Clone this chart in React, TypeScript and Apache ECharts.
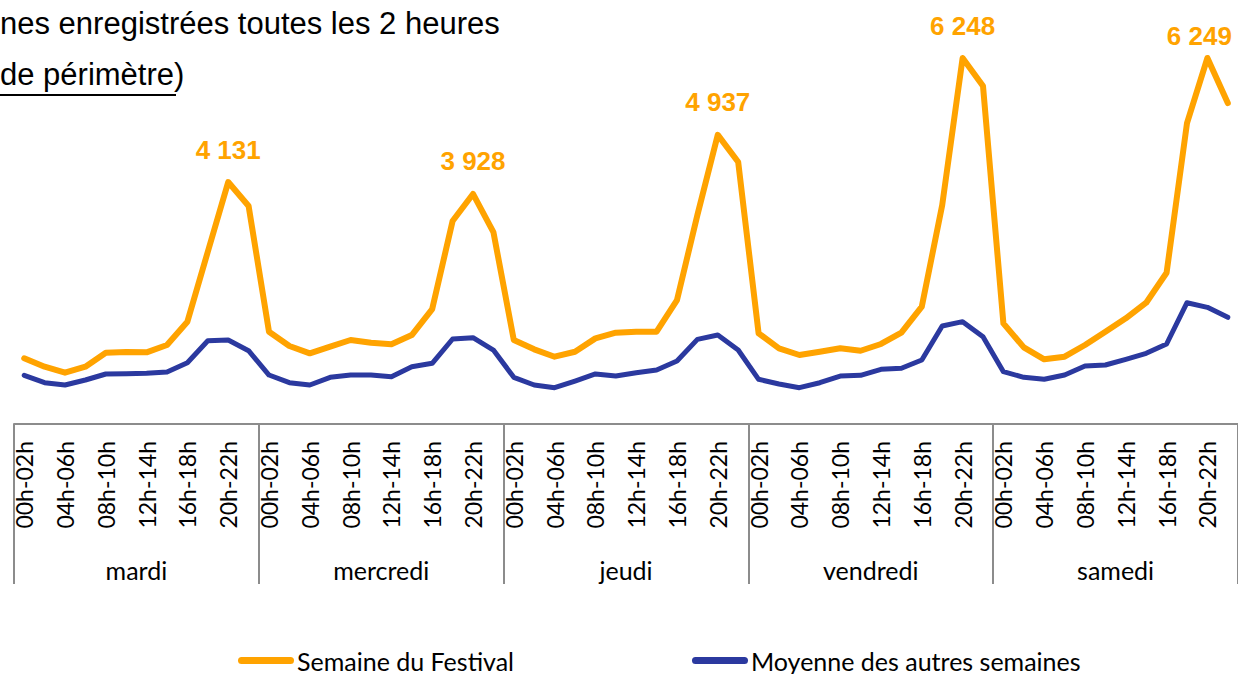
import React, { useEffect, useRef } from "react";
import * as echarts from "echarts";

const days = ["mardi", "mercredi", "jeudi", "vendredi", "samedi"];
const slots = [
  "00h-02h", "02h-04h", "04h-06h", "06h-08h", "08h-10h", "10h-12h",
  "12h-14h", "14h-16h", "16h-18h", "18h-20h", "20h-22h", "22h-24h",
];
const festival = [
  1122, 978, 876, 978, 1217, 1229, 1224, 1349, 1747, 2941, 4131, 3721,
  1576, 1331, 1206, 1320, 1434, 1388, 1360, 1519, 1963, 3465, 3928, 3277,
  1434, 1275, 1149, 1234, 1462, 1559, 1576, 1576, 2117, 3568, 4937, 4472,
  1548, 1292, 1178, 1234, 1292, 1251, 1366, 1559, 2003, 3738, 6248, 5770,
  1718, 1309, 1104, 1149, 1349, 1576, 1804, 2071, 2583, 5138, 6249, 5479,
];
const autres = [
  831, 705, 666, 751, 854, 859, 865, 888, 1047, 1422, 1434, 1251,
  836, 705, 666, 797, 836, 836, 808, 978, 1036, 1451, 1473, 1263,
  797, 666, 620, 734, 854, 819, 876, 922, 1075, 1445, 1519, 1263,
  763, 683, 620, 705, 819, 831, 934, 951, 1092, 1673, 1747, 1490,
  893, 797, 763, 836, 990, 1007, 1104, 1207, 1366, 2071, 1992, 1821,
];
const peakIndices = [10, 22, 34, 46, 58];
const seriesNames = ["Semaine du Festival", "Moyenne des autres semaines"];
const titleLine1 = "nes enregistrées toutes les 2 heures";
const titleLine2 = "de périmètre";

const ORANGE = "#FFA300";
const BLUE = "#2B399F";
const GRAY = "#8C8C8C";

const fmt = (v: number) => String(v).replace(/\B(?=(\d{3})+(?!\d))/g, " ");

export default function App() {
  const ref = useRef<HTMLDivElement>(null);
  useEffect(() => {
    if (!ref.current) return;
    const chart = echarts.init(ref.current, null, { renderer: "svg" });
    const cats: string[] = [];
    days.forEach((d) => slots.forEach((s) => cats.push(d + "|" + s)));
    const lastPeak = peakIndices[peakIndices.length - 1];
    const festData = festival.map((v, i) => {
      if (!peakIndices.includes(i)) return v;
      return {
        value: v,
        label: { show: true, position: "top", distance: i === lastPeak ? 8 : 19 },
      };
    });
    const titleFont = "31px 'Liberation Sans', Arial, sans-serif";
    chart.setOption({
      animation: false,
      backgroundColor: "#ffffff",
      grid: { left: 14, top: 14, width: 1225, height: 410, containLabel: false },
      legend: {
        data: seriesNames,
        left: 233,
        top: 643,
        itemGap: 178,
        itemWidth: 56,
        itemHeight: 7,
        icon: "path://M3.5,0 H52.5 A3.5,3.5 0 0 1 52.5,7 H3.5 A3.5,3.5 0 0 1 3.5,0 Z",
        textStyle: { fontFamily: "Lato", fontSize: 25, color: "#000", padding: [0, 0, 0, -2] },
      },
      xAxis: [
        {
          type: "category",
          data: cats,
          boundaryGap: true,
          axisLine: { show: true, lineStyle: { color: GRAY, width: 2 } },
          axisTick: { show: false },
          axisLabel: {
            interval: 1,
            rotate: 90,
            margin: 17,
            fontFamily: "Lato",
            fontSize: 23,
            color: "#000",
            formatter: (v: string) => v.split("|")[1],
          },
        },
        {
          type: "category",
          data: days,
          position: "bottom",
          boundaryGap: true,
          axisLine: { show: false },
          axisTick: { show: true, length: 160, lineStyle: { color: GRAY, width: 2 } },
          axisLabel: {
            margin: 133,
            fontFamily: "Lato",
            fontSize: 25,
            color: "#000",
          },
        },
      ],
      yAxis: {
        type: "value",
        min: 0,
        max: 7000,
        show: false,
        splitLine: { show: false },
      },
      series: [
        {
          name: seriesNames[0],
          type: "line",
          xAxisIndex: 0,
          data: festData,
          symbol: "circle",
          symbolSize: 1,
          showSymbol: true,
          showAllSymbol: true,
          itemStyle: { color: ORANGE },
          color: ORANGE,
          lineStyle: { color: ORANGE, width: 6, join: "round", cap: "round" },
          label: {
            show: false,
            formatter: (p: any) => fmt(p.value),
            color: ORANGE,
            fontWeight: "bold",
            fontSize: 26,
            fontFamily: "Liberation Sans, Arial, sans-serif",
          },
          labelLayout: (p: any) =>
            p.dataIndex === lastPeak ? { dx: -8, hideOverlap: false } : { hideOverlap: false },
          z: 3,
        },
        {
          name: seriesNames[1],
          type: "line",
          xAxisIndex: 0,
          data: autres,
          symbol: "none",
          color: BLUE,
          lineStyle: { color: BLUE, width: 5, join: "round", cap: "round" },
          z: 2,
        },
      ],
      graphic: [
        {
          type: "text",
          left: 0,
          top: 8,
          style: { text: titleLine1, font: titleFont, fill: "#000" },
        },
        {
          type: "text",
          left: 0,
          top: 59,
          style: { text: titleLine2 + ")", font: titleFont, fill: "#000" },
        },
        {
          type: "rect",
          left: 0,
          top: 94,
          shape: { width: 176, height: 2 },
          style: { fill: "#000" },
        },
      ],
    });
    return () => chart.dispose();
  }, []);
  return (
    <div
      ref={ref}
      style={{ position: "absolute", left: 0, top: 0, width: 1238, height: 674 }}
    />
  );
}
